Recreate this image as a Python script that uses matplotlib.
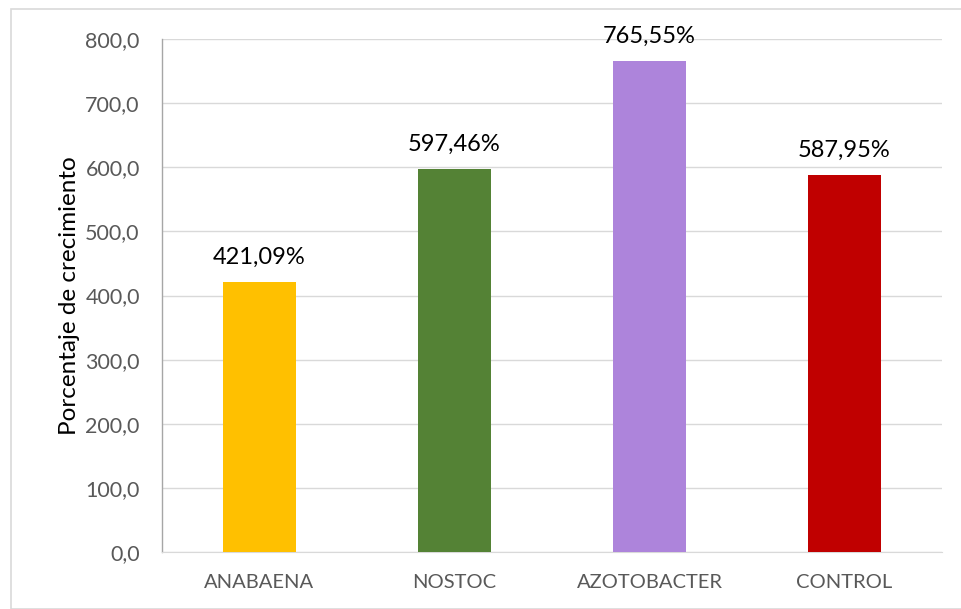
import matplotlib.pyplot as plt
from matplotlib.patches import Rectangle

categories = ["ANABAENA", "NOSTOC", "AZOTOBACTER", "CONTROL"]
values = [421.09, 597.46, 765.55, 587.95]
labels = ["421,09%", "597,46%", "765,55%", "587,95%"]
colors = ["#FFC000", "#548235", "#AD84DB", "#C00000"]
yticks = [0, 100, 200, 300, 400, 500, 600, 700, 800]

plt.rcParams['font.family'] = ['Lato', 'DejaVu Sans']

fig = plt.figure(figsize=(9.61, 6.09), dpi=100)
# axes placed in pixel terms: left 162, right 942, top 39, bottom 552
W, H = 961, 609
ax = fig.add_axes([162 / W, 1 - 552 / H, 780 / W, 513 / H])

x = range(len(categories))
ax.bar(x, values, width=0.37, color=colors, zorder=3)
ax.set_xlim(-0.5, len(categories) - 0.5)
ax.set_ylim(0, 800)

for xi, v, lab in zip(x, values, labels):
    ax.text(xi, v + 22, lab, ha='center', va='bottom', fontsize=17, color='black')

ax.set_yticks(yticks)
ax.set_yticklabels([f"{t:.1f}".replace('.', ',') for t in yticks])
ax.set_xticks(list(x))
ax.set_xticklabels(categories)
ax.tick_params(axis='x', length=0, labelsize=14.5, colors='#595959', pad=16)
ax.tick_params(axis='y', length=0, labelsize=15.5, colors='#595959', pad=16)

ax.grid(axis='y', color='#D9D9D9', linewidth=1, zorder=0)
for s in ['top', 'right']:
    ax.spines[s].set_visible(False)
ax.spines['left'].set_color('#A6A6A6')
ax.spines['bottom'].set_color('#D9D9D9')
ax.spines['left'].set_linewidth(1)

ax.set_ylabel("Porcentaje de crecimiento", fontsize=17.5, color='black', labelpad=4)

# outer chart border
fig.patches.append(Rectangle((11 / W, 0), 1 - 11 / W + 0.01, 1 - 9 / H,
                             transform=fig.transFigure, fill=False,
                             edgecolor='#D9D9D9', linewidth=1.2))

fig.savefig("out.png", dpi=100)
